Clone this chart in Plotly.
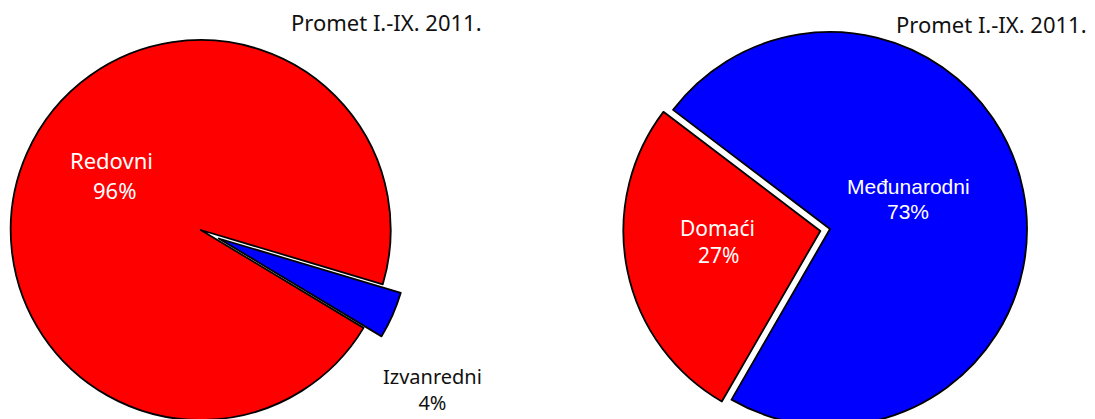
import plotly.graph_objects as go

# ---- data ----
left_labels = ["Redovni", "Izvanredni"]
left_values = [96, 4]
right_labels = ["Domaći", "Međunarodni"]
right_values = [27, 73]
title_text = "Promet I.-IX. 2011."

W, H = 1095, 440
OFF = 8  # page body margin
RED, BLUE = "#FF0000", "#0000FF"
CLEAR = "rgba(0,0,0,0)"


def dom(cx, cy, r):
    cx -= OFF
    cy -= OFF
    return dict(x=[(cx - r) / W, (cx + r) / W], y=[1 - (cy + r) / H, 1 - (cy - r) / H])


def pct(vals, i):
    return f"{round(vals[i] / sum(vals) * 100)}%"


fig = go.Figure()

common = dict(sort=False, direction="clockwise", textinfo="none", hoverinfo="skip",
              showlegend=False)

# left pie: main (red) part
fig.add_trace(go.Pie(labels=left_labels, values=left_values, rotation=121,
                     marker=dict(colors=[RED, CLEAR],
                                 line=dict(color=["black", CLEAR], width=1.8)),
                     domain=dom(200.7, 230, 190), **common))
# left pie: exploded small slice
fig.add_trace(go.Pie(labels=left_labels, values=left_values, rotation=121,
                     marker=dict(colors=[CLEAR, BLUE],
                                 line=dict(color=[CLEAR, "black"], width=1.8)),
                     domain=dom(218.7, 238.5, 190), **common))

# right pie
rr = 197
fig.add_trace(go.Pie(labels=right_labels, values=right_values, rotation=210,
                     pull=[0.05, 0],
                     marker=dict(colors=[RED, BLUE], line=dict(color="black", width=1.8)),
                     domain=dom(830, 229, rr * 1.05), **common))

gothic = "Noto Sans"
ann = []


def add(txt, x, y, color, family, size):
    ann.append(dict(text=txt, x=(x - OFF) / W, y=1 - (y - OFF) / H, xref="paper", yref="paper",
                    showarrow=False, xanchor="center", yanchor="middle",
                    font=dict(family=family, size=size, color=color)))


add(title_text, 386, 22, "#111111", gothic, 22)
add(title_text, 991, 24, "#111111", gothic, 22)
add(left_labels[0], 111.5, 160, "white", gothic, 22)
add(pct(left_values, 0), 114, 190, "white", gothic, 22)
add(f"{left_labels[1]}<br>{pct(left_values, 1)}", 432, 389, "#111111", gothic, 20)
add(right_labels[0], 717, 228, "white", gothic, 21)
add(pct(right_values, 0), 718, 255, "white", gothic, 21)
add(right_labels[1], 908, 186, "white", "Liberation Sans", 21)
add(pct(right_values, 1), 908, 211, "white", "Liberation Sans", 21)

fig.update_layout(width=W, height=H, margin=dict(l=0, r=0, t=0, b=0),
                  paper_bgcolor="white", plot_bgcolor="white", annotations=ann)

fig.write_html("out.html")
